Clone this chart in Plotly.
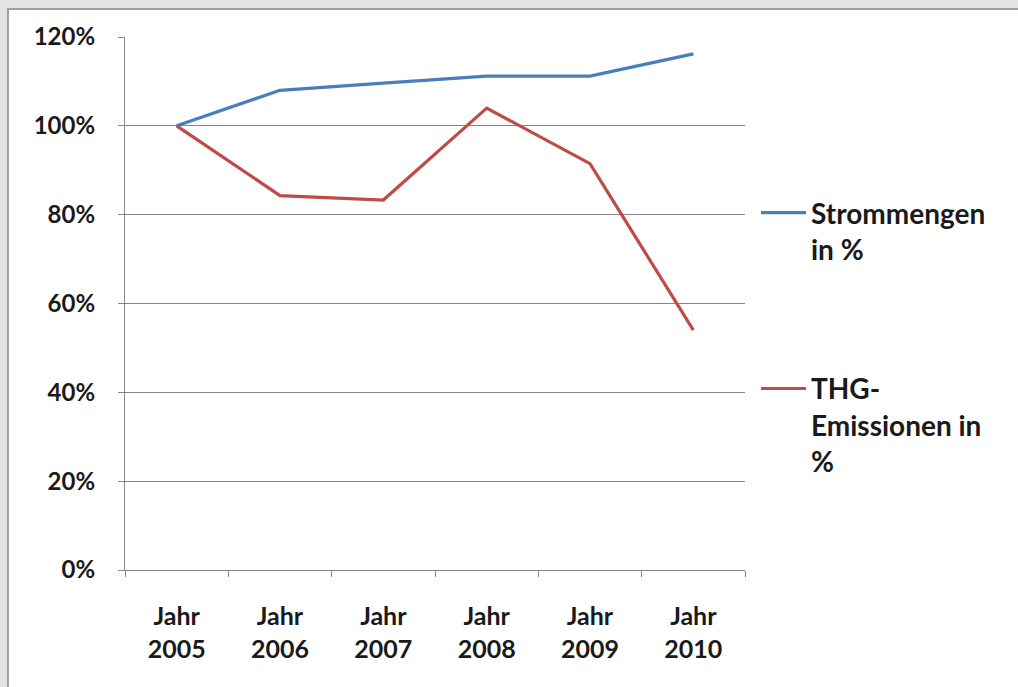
import plotly.graph_objects as go

categories = ["Jahr<br>2005", "Jahr<br>2006", "Jahr<br>2007", "Jahr<br>2008", "Jahr<br>2009", "Jahr<br>2010"]
strom = [1.00, 1.08, 1.096, 1.112, 1.112, 1.162]
thg = [1.00, 0.843, 0.833, 1.04, 0.915, 0.54]
y_ticks = [0, 0.2, 0.4, 0.6, 0.8, 1.0, 1.2]
y_labels = ["0%", "20%", "40%", "60%", "80%", "100%", "120%"]

W, H = 1018, 687
L, R, T, B = 125, 273, 37, 117
pw, ph = W - L - R, H - T - B

def px(x):
    return (x - L) / pw

def py(y):
    return (H - B - y) / ph

FONT = "Lato"
fig = go.Figure()
fig.add_trace(go.Scatter(x=categories, y=strom, mode="lines", name="Strommengen<br>in %",
                         legendgroup="a", line=dict(color="#4A7EBB", width=3.2)))
fig.add_trace(go.Scatter(x=categories, y=thg, mode="lines", name="THG-<br>Emissionen in<br>%",
                         legendgroup="b", line=dict(color="#BE4B48", width=3.2)))

fig.update_layout(
    width=W, height=H,
    margin=dict(l=L, r=R, t=T, b=B, autoexpand=False),
    paper_bgcolor="#E4E4E4",
    plot_bgcolor="rgba(0,0,0,0)",
    font=dict(family=FONT, size=24, color="#1A1A1A", weight="bold"),
    showlegend=True,
    legend=dict(x=px(756), y=py(188), xanchor="left", yanchor="top",
                font=dict(family=FONT, size=28, color="#1A1A1A", weight="bold"),
                valign="top", tracegroupgap=100, itemwidth=45,
                bgcolor="rgba(0,0,0,0)"),
    shapes=[dict(type="rect", xref="paper", yref="paper", layer="below",
                 x0=px(8), x1=px(W + 5), y0=py(H + 5), y1=py(9),
                 fillcolor="white", line=dict(color="#A0A0A0", width=2))],
)
fig.update_xaxes(
    type="category", range=[-0.5, 5.5], showline=True, linecolor="#868686", linewidth=1.2,
    tickson="boundaries", ticks="outside", ticklen=6, tickcolor="#868686",
    showgrid=False, ticklabelstandoff=24,
    tickfont=dict(family=FONT, size=25, color="#1A1A1A", weight="bold"),
)
fig.update_yaxes(
    range=[0, 1.2], tickvals=y_ticks, ticktext=y_labels, showline=True, linecolor="#868686",
    linewidth=1.2, ticks="outside", ticklen=6, tickcolor="#868686",
    showgrid=True, gridcolor="#868686", gridwidth=1.2, zeroline=False, ticklabelstandoff=18,
    tickfont=dict(family=FONT, size=24, color="#1A1A1A", weight="bold"),
)
fig.write_html("out.html", config={"displayModeBar": False},
               post_script="document.body.style.margin='0';")
